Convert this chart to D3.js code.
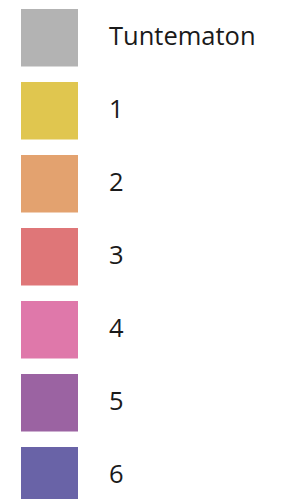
<!DOCTYPE html>
<meta charset='utf-8'>
<style>
  body { margin: 0; background: #fff; }
  text { font-family: "Open Sans", sans-serif; fill: #1a1a1a; }
</style>
<body>
<div id="viz"></div>
<script src="https://d3js.org/d3.v7.min.js"></script>
<script>
// legend entries
const labels = ['Tuntematon', '1', '2', '3', '4', '5', '6'];
const colors = ['#b3b3b3', '#e0c64f', '#e3a26f', '#df7678', '#df78aa', '#9b63a2', '#6963a7'];

const width = 284, height = 499;

const svg = d3.select('#viz').append('svg')
  .attr('width', width)
  .attr('height', height);

const y = d3.scaleBand()
  .domain(labels)
  .range([9, 9 + 73 * 6 + 57.5])
  .paddingInner(15.5 / 73)
  .paddingOuter(0);

const row = svg.selectAll('g.row')
  .data(labels)
  .join('g')
  .attr('class', 'row')
  .attr('transform', d => 'translate(0,' + y(d) + ')');

row.append('rect')
  .attr('x', 21)
  .attr('width', 57)
  .attr('height', y.bandwidth())
  .attr('fill', (d, i) => colors[i]);

row.append('text')
  .attr('x', 109)
  .attr('y', y.bandwidth() / 2)
  .attr('dy', '0.27em')
  .style('font-size', '25.5px')
  .text(d => d);
</script>
